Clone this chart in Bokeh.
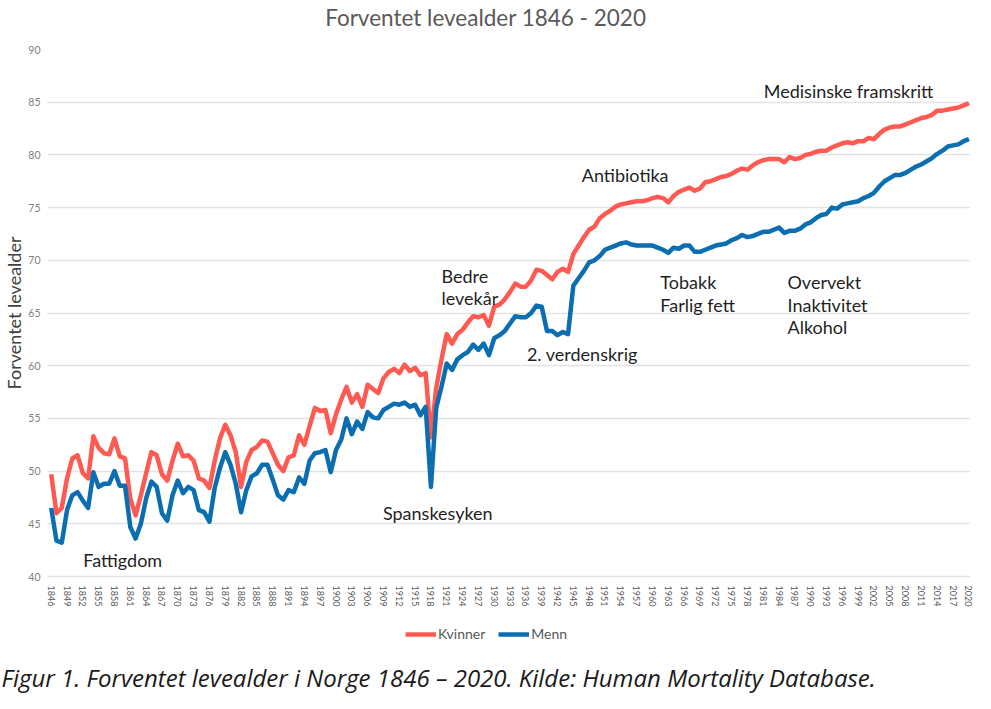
from bokeh.plotting import figure
from bokeh.layouts import column
from bokeh.models import FixedTicker, Label, Legend, LegendItem, Range1d, Title
from bokeh.embed import file_html
from bokeh.resources import INLINE

years = list(range(1846, 2021))

kvinner = [
    49.7, 46.0, 46.5, 49.3,
    51.2, 51.5, 49.8, 49.3, 53.3, 52.2, 51.7, 51.6, 53.1, 51.4,
    51.2, 47.4, 45.8, 47.7, 49.8, 51.8, 51.5, 49.7, 49.1, 51.0,
    52.6, 51.4, 51.5, 51.0, 49.3, 49.1, 48.4, 51.0, 53.1, 54.4,
    53.4, 51.8, 48.5, 50.9, 52.0, 52.3, 52.9, 52.8, 51.7, 50.6,
    50.0, 51.3, 51.5, 53.4, 52.5, 54.3, 56.0, 55.7, 55.8, 53.6,
    55.4, 56.8, 58.0, 56.5, 57.3, 56.1, 58.2, 57.8, 57.4, 58.8,
    59.4, 59.7, 59.3, 60.1, 59.5, 59.8, 59.1, 59.3, 53.2, 57.9,
    60.6, 63.0, 62.1, 63.0, 63.4, 64.1, 64.7, 64.6, 64.8, 63.8,
    65.6, 65.8, 66.3, 67.0, 67.8, 67.5, 67.5, 68.1, 69.1, 69.0,
    68.6, 68.2, 68.9, 69.2, 68.9, 70.6, 71.4, 72.2, 72.9, 73.2,
    74.0, 74.4, 74.7, 75.1, 75.3, 75.4, 75.5, 75.6, 75.6, 75.7,
    75.9, 76.0, 75.9, 75.5, 76.1, 76.5, 76.7, 76.9, 76.6, 76.8,
    77.4, 77.5, 77.7, 77.9, 78.0, 78.2, 78.5, 78.7, 78.6, 79.0,
    79.3, 79.5, 79.6, 79.6, 79.6, 79.3, 79.8, 79.6, 79.7, 80.0,
    80.1, 80.3, 80.4, 80.4, 80.7, 80.9, 81.1, 81.2, 81.1, 81.3,
    81.3, 81.6, 81.5, 82.0, 82.4, 82.6, 82.7, 82.7, 82.9, 83.1,
    83.3, 83.5, 83.6, 83.8, 84.2, 84.2, 84.3, 84.4, 84.5, 84.7,
    84.9,
]

menn = [
    46.5, 43.4, 43.2, 46.3,
    47.7, 48.0, 47.2, 46.5, 49.9, 48.5, 48.8, 48.8, 50.0, 48.6,
    48.6, 44.7, 43.6, 45.0, 47.4, 49.0, 48.5, 46.0, 45.3, 47.7,
    49.1, 47.9, 48.5, 48.2, 46.3, 46.1, 45.2, 48.4, 50.3, 51.8,
    50.6, 48.8, 46.1, 48.2, 49.5, 49.8, 50.6, 50.6, 49.2, 47.7,
    47.3, 48.2, 48.0, 49.4, 48.8, 51.0, 51.7, 51.8, 52.0, 49.9,
    52.0, 53.0, 55.0, 53.5, 54.7, 54.0, 55.6, 55.1, 55.0, 55.8,
    56.1, 56.4, 56.3, 56.5, 56.1, 56.3, 55.3, 56.1, 48.5, 56.0,
    58.0, 60.2, 59.6, 60.6, 61.0, 61.3, 62.0, 61.5, 62.1, 61.0,
    62.6, 62.9, 63.3, 64.0, 64.7, 64.6, 64.6, 65.0, 65.7, 65.6,
    63.3, 63.3, 62.9, 63.2, 63.0, 67.6, 68.3, 69.0, 69.8, 70.0,
    70.4, 71.0, 71.2, 71.4, 71.6, 71.7, 71.5, 71.4, 71.4, 71.4,
    71.4, 71.2, 71.0, 70.7, 71.2, 71.1, 71.4, 71.4, 70.8, 70.8,
    71.0, 71.2, 71.4, 71.5, 71.6, 71.9, 72.1, 72.4, 72.2, 72.3,
    72.5, 72.7, 72.7, 72.9, 73.1, 72.6, 72.8, 72.8, 73.0, 73.4,
    73.6, 74.0, 74.3, 74.4, 75.0, 74.9, 75.3, 75.4, 75.5, 75.6,
    75.9, 76.1, 76.4, 77.0, 77.5, 77.8, 78.1, 78.1, 78.3, 78.6,
    78.9, 79.1, 79.4, 79.7, 80.1, 80.4, 80.8, 80.9, 81.0, 81.3,
    81.5,
]

tick_years = years[::3]
y_ticks = [40, 45, 50, 55, 60, 65, 70, 75, 80, 85, 90]

annot_texts = ["Fattigdom", "Spanskesyken", "Bedre", "levekår", "2. verdenskrig",
               "Antibiotika", "Tobakk", "Farlig fett", "Overvekt", "Inaktivitet",
               "Alkohol", "Medisinske framskritt"]
annot_x = [1852.1, 1908.9, 1920.0, 1920.0, 1936.2, 1946.6, 1961.5, 1961.5,
           1985.6, 1985.6, 1985.6, 1981.1]
annot_y = [41.6, 46.0, 68.5, 66.4, 61.1, 78.1, 67.9, 65.8, 67.9, 65.8, 63.7, 86.1]

title_text = "Forventet levealder 1846 - 2020"
title_pos = (1928.4, 19)
y_label = "Forventet levealder"
caption_text = "Figur 1. Forventet levealder i Norge 1846 \u2013 2020. Kilde: Human Mortality Database."
legend_labels = ["Kvinner", "Menn"]

RED = "#FF5A52"
BLUE = "#0B6EB0"
GRID = "#E3E3E3"
FONT = "Lato"

x_range = Range1d(1845.3, 2020.3)

# ---------------- title strip ----------------
p0 = figure(width=975, height=36, output_backend="svg", toolbar_location=None,
            x_range=x_range, y_range=Range1d(0, 36),
            x_axis_type=None, y_axis_type=None,
            min_border_left=41, min_border_right=5, min_border_top=0,
            min_border_bottom=0, title=None)
p0.outline_line_color = None
p0.background_fill_color = "white"
p0.border_fill_color = "white"
p0.xgrid.grid_line_color = None
p0.ygrid.grid_line_color = None
p0.add_layout(Label(x=title_pos[0], y=title_pos[1], text=title_text,
                    text_font=FONT, text_font_size="22.5px", text_color="#595959",
                    text_align="center", text_baseline="middle"))

# ---------------- main chart ----------------
p = figure(width=975, height=573, output_backend="svg", toolbar_location=None,
           x_range=x_range, y_range=Range1d(40, 90),
           min_border_left=41, min_border_right=5, min_border_top=13,
           min_border_bottom=32, title=None)
p.outline_line_color = None
p.background_fill_color = "white"
p.border_fill_color = "white"

p.line(years, kvinner, line_color=RED, line_width=4.5, line_join="round")
p.line(years, menn, line_color=BLUE, line_width=4.5, line_join="round")

p.xaxis.ticker = FixedTicker(ticks=tick_years)
p.xaxis.major_label_orientation = "vertical"
p.xaxis.major_label_text_font = FONT
p.xaxis.major_label_text_font_size = "9px"
p.xaxis.major_label_text_color = "#595959"
p.xaxis.major_label_standoff = 9
p.xaxis.major_tick_out = 0
p.xaxis.major_tick_in = 0
p.xaxis.minor_tick_out = 0
p.xaxis.minor_tick_in = 0
p.xaxis.major_tick_line_color = None
p.xaxis.minor_tick_line_color = None
p.xaxis.axis_line_color = GRID
p.xaxis.axis_line_width = 1.3

p.yaxis.ticker = FixedTicker(ticks=y_ticks)
p.yaxis.major_label_text_font = FONT
p.yaxis.major_label_text_font_size = "10.5px"
p.yaxis.major_label_text_color = "#7F7F7F"
p.yaxis.major_label_standoff = 7
p.yaxis.major_tick_out = 0
p.yaxis.major_tick_in = 0
p.yaxis.minor_tick_out = 0
p.yaxis.minor_tick_in = 0
p.yaxis.major_tick_line_color = None
p.yaxis.minor_tick_line_color = None
p.yaxis.axis_line_color = None
p.yaxis.axis_label = y_label
p.yaxis.axis_label_text_font = FONT
p.yaxis.axis_label_text_font_size = "18px"
p.yaxis.axis_label_text_font_style = "normal"
p.yaxis.axis_label_text_color = "#404040"
p.yaxis.axis_label_standoff = 0

p.xgrid.grid_line_color = None
p.ygrid.grid_line_color = GRID
p.ygrid.grid_line_width = 1.3

for t, ax, ay in zip(annot_texts, annot_x, annot_y):
    p.add_layout(Label(x=ax, y=ay, text=t, text_font=FONT, text_font_size="18px",
                       text_color="#1F1F1F", text_baseline="middle", text_align="left"))

# ---------------- legend + caption strip ----------------
p2 = figure(width=975, height=84, output_backend="svg", toolbar_location=None,
            x_range=x_range, y_range=Range1d(0, 1),
            x_axis_type=None, y_axis_type=None,
            min_border_left=41, min_border_right=5, min_border_top=0,
            min_border_bottom=0, title=None)
p2.outline_line_color = None
p2.background_fill_color = "white"
p2.border_fill_color = "white"
p2.xgrid.grid_line_color = None
p2.ygrid.grid_line_color = None

# same series, outside this strip's y-range: they only feed the legend swatches
l_k = p2.line(years, kvinner, line_color=RED, line_width=4.5)
l_m = p2.line(years, menn, line_color=BLUE, line_width=4.5)

legend = Legend(items=[LegendItem(label=legend_labels[0], renderers=[l_k]),
                       LegendItem(label=legend_labels[1], renderers=[l_m])],
                orientation="horizontal", location=(358, 16),
                label_text_font=FONT, label_text_font_size="14px",
                label_text_color="#595959", glyph_width=31, glyph_height=14,
                label_standoff=2, spacing=13, padding=2, margin=0,
                border_line_color=None, background_fill_alpha=0)
p2.add_layout(legend, "center")

p2.add_layout(Title(text=caption_text, align="left", offset=-46, text_font="Open Sans",
                    text_font_size="24px", text_font_style="italic",
                    text_color="#1A1A1A", standoff=0), "below")

layout = column(p0, p, p2, spacing=0)
open("out.html", "w").write(file_html(layout, INLINE))
